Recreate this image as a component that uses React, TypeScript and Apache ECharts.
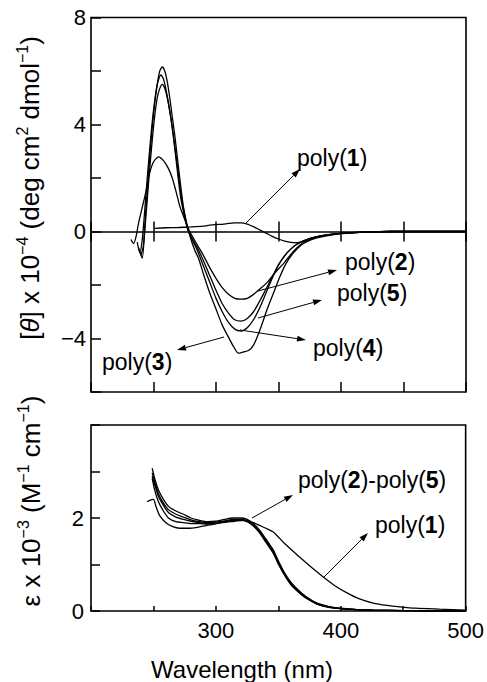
import React, { useEffect, useRef } from "react";
import * as echarts from "echarts";

const FONT = '"Liberation Sans", Arial, Helvetica, sans-serif';

// ---------- Top panel: CD spectra ([θ] x 10^-4) ----------
const cdWl1 = [251,260,270,280,290,295,300,305,310,315,320,325,330,335,340,345,350,355,360,365,370,375,380,390,400,410,420,430,440,470,500];
const cdPoly1 = [0.12,0.14,0.15,0.17,0.2,0.24,0.26,0.27,0.3,0.32,0.32,0.28,0.18,0.06,-0.06,-0.18,-0.28,-0.36,-0.41,-0.42,-0.35,-0.26,-0.2,-0.13,-0.07,-0.04,-0.02,-0.01,0,0,0];

const cdWl2 = [232,234,236,238,241,244,247,250,254,258,262,265,268,271,275,279,285,290,295,300,305,310,315,320,325,330,335,341,347,354,360,365,370,380,390,400,420,440,470,500];
const cdPoly2 = [-0.3,-0.45,-0.2,0.3,0.9,1.5,2.2,2.6,2.79,2.65,2.35,2.0,1.5,0.95,0.45,0.0,-0.5,-0.9,-1.35,-1.75,-2.1,-2.35,-2.5,-2.53,-2.5,-2.35,-2.15,-1.9,-1.55,-1.2,-0.85,-0.6,-0.4,-0.22,-0.13,-0.07,-0.02,0,0,0];

const cdWl3 = [238,241,243,245,247,249,251,253,255,257,259,261,263,265,267,269,271,274,277,280,283,286,290,295,300,305,310,314,318,322,326,330,335,341,346,351,356,362,370,380,390,400,420,440,470,500];
const cdPoly3 = [-0.6,-1.0,0.2,1.5,2.8,3.9,4.8,5.5,6.0,6.15,6.0,5.6,5.0,4.3,3.6,2.8,2.0,0.9,0.2,-0.3,-0.7,-1.0,-1.6,-2.3,-2.9,-3.5,-3.95,-4.3,-4.55,-4.5,-4.45,-4.25,-3.7,-2.9,-2.3,-1.7,-1.2,-0.8,-0.45,-0.25,-0.15,-0.08,-0.02,0,0,0];

const cdWl4 = [237,239,241,243,245,247,249,251,253,256,258,260,262,264,266,268,270,272,275,278,285,290,295,300,305,310,315,320,325,330,335,340,345,350,355,360,365,370,380,390,400,420,440,470,500];
const cdPoly4 = [-0.4,-0.8,-0.3,0.8,2.0,3.1,4.1,4.9,5.5,5.85,5.7,5.3,4.8,4.2,3.5,2.7,1.9,1.2,0.5,0.0,-0.7,-1.3,-1.9,-2.5,-3.0,-3.4,-3.65,-3.72,-3.6,-3.3,-2.85,-2.3,-1.75,-1.25,-0.9,-0.65,-0.47,-0.35,-0.2,-0.12,-0.07,-0.02,0,0,0];

const cdWl5 = [240,242,244,246,248,250,252,254,257,259,261,263,265,267,269,271,273,276,278,285,290,295,300,305,310,315,320,325,330,335,340,345,350,355,360,365,370,380,390,400,420,440,470,500];
const cdPoly5 = [-0.9,-0.5,0.6,1.8,2.9,3.9,4.7,5.2,5.5,5.35,5.0,4.5,3.9,3.2,2.5,1.7,1.1,0.4,0.0,-0.6,-1.1,-1.65,-2.2,-2.7,-3.05,-3.3,-3.35,-3.25,-3.0,-2.6,-2.15,-1.7,-1.25,-0.9,-0.65,-0.47,-0.35,-0.2,-0.12,-0.07,-0.02,0,0,0];

// ---------- Bottom panel: UV spectra (ε x 10^-3) ----------
const uvWl1 = [245,247,250,252,255,260,265,271,278,285,295,305,315,322,330,335,340,346,355,367,376,386,395,405,415,426,437,447,460,479,500];
const uvPoly1 = [2.35,2.38,2.4,2.25,2.05,1.9,1.82,1.78,1.78,1.8,1.85,1.9,1.93,1.95,1.9,1.84,1.78,1.7,1.45,1.16,0.95,0.73,0.55,0.39,0.26,0.17,0.12,0.09,0.06,0.04,0.02];

const uvWlB = [249,251,254,258,262,268,274,280,287,293,300,307,314,320,325,330,335,340,346,350,355,360,366,372,381,390,400,413,426,450,475,500];
const uvPoly2 = [3.07,2.85,2.6,2.4,2.25,2.15,2.08,2.0,1.95,1.92,1.93,1.97,2.0,2.0,1.97,1.88,1.74,1.55,1.31,1.08,0.82,0.62,0.45,0.31,0.17,0.1,0.06,0.03,0.02,0.01,0,0];
const uvPoly3 = [2.97,2.78,2.52,2.32,2.18,2.08,2.02,1.96,1.92,1.9,1.91,1.94,1.97,1.97,1.94,1.85,1.71,1.52,1.28,1.05,0.8,0.6,0.43,0.3,0.16,0.09,0.05,0.03,0.02,0.01,0,0];
const uvPoly4 = [2.9,2.72,2.46,2.27,2.12,2.02,1.97,1.93,1.9,1.88,1.89,1.92,1.95,1.96,1.93,1.84,1.7,1.5,1.26,1.03,0.78,0.58,0.42,0.29,0.15,0.09,0.05,0.03,0.02,0.01,0,0];
const uvPoly5 = [2.85,2.6,2.35,2.15,2.0,1.92,1.9,1.88,1.88,1.87,1.88,1.92,1.95,1.95,1.92,1.83,1.68,1.48,1.24,1.01,0.77,0.57,0.41,0.28,0.15,0.08,0.05,0.03,0.02,0.01,0,0];

// ---------- Axis settings ----------
const xMin = 200, xMax = 500, xStep = 50;
const xLabels = [300, 400, 500];
const cdMin = -6, cdMax = 8, cdStep = 2;
const cdLabels = [8, 4, 0, -4];
const uvMin = 0, uvMax = 4, uvStep = 1;
const uvLabels = [0, 2];

const zip = (xs: number[], ys: number[]) => xs.map((x, i) => [x, ys[i]]);

function arrow(x1: number, y1: number, x2: number, y2: number) {
  const dx = x2 - x1, dy = y2 - y1;
  const len = Math.hypot(dx, dy);
  const ux = dx / len, uy = dy / len;
  const hl = 9, hw = 3;
  const bx = x2 - ux * hl, by = y2 - uy * hl;
  return [
    { type: "line", z: 100, shape: { x1, y1, x2: bx, y2: by }, style: { stroke: "#000", lineWidth: 1 } },
    {
      type: "polygon", z: 100,
      shape: { points: [[x2, y2], [bx - uy * hw, by + ux * hw], [bx + uy * hw, by - ux * hw]] },
      style: { fill: "#000" },
    },
  ];
}

const richLabel = {
  n: { fontSize: 23, fontFamily: FONT, fill: "#000" },
  b: { fontSize: 23, fontFamily: FONT, fontWeight: "bold", fill: "#000" },
};

function label(x: number, y: number, text: string) {
  return {
    type: "text", z: 100, x, y,
    style: { text, rich: richLabel, align: "left", verticalAlign: "middle", fill: "#000" },
  };
}

const richTitle = {
  n: { fontSize: 26, fontFamily: FONT, lineHeight: 31, fill: "#000" },
  i: { fontSize: 26, fontFamily: FONT, fontStyle: "italic", lineHeight: 31, fill: "#000" },
  s: { fontSize: 16, fontFamily: FONT, lineHeight: 17, verticalAlign: "top", fill: "#000" },
};

export default function App() {
  const ref = useRef<HTMLDivElement>(null);
  useEffect(() => {
    if (!ref.current) return;
    const chart = echarts.init(ref.current, undefined, { renderer: "svg" });
    const line = (xi: number, yi: number, data: number[][]) => ({
      type: "line", xAxisIndex: xi, yAxisIndex: yi, data,
      showSymbol: false, symbol: "none", smooth: 0.25,
      lineStyle: { color: "#000", width: 1.3 }, silent: true,
    });
    const tick = () => ({ color: "#000", width: 1.5 });
    const option: any = {
      animation: false,
      backgroundColor: "#fff",
      grid: [
        { left: 91, right: 21, top: 17.5, height: 374.5, show: true, borderColor: "#000", borderWidth: 1.6 },
        { left: 91, right: 21, top: 425, height: 186, show: true, borderColor: "#000", borderWidth: 1.6 },
      ],
      xAxis: [
        {
          gridIndex: 0, type: "value", min: xMin, max: xMax, interval: xStep, position: "bottom",
          axisLine: { show: false, onZero: false },
          axisTick: { show: true, inside: true, length: 10, lineStyle: tick() },
          axisLabel: { show: false }, splitLine: { show: false },
        },
        {
          gridIndex: 0, type: "value", min: xMin, max: xMax, interval: xStep, position: "top",
          axisLine: { show: true, onZero: true, onZeroAxisIndex: 0, lineStyle: { color: "#000", width: 1.5 } },
          axisTick: { show: true, inside: false, length: 10, lineStyle: tick() },
          axisLabel: { show: false }, splitLine: { show: false },
        },
        {
          gridIndex: 0, type: "value", min: xMin, max: xMax, interval: xStep, position: "bottom",
          axisLine: { show: false, onZero: true, onZeroAxisIndex: 0 },
          axisTick: { show: true, inside: false, length: 10, lineStyle: tick() },
          axisLabel: { show: false }, splitLine: { show: false },
        },
        {
          gridIndex: 1, type: "value", min: xMin, max: xMax, interval: xStep, position: "bottom",
          axisLine: { show: false, onZero: false },
          axisTick: { show: true, inside: true, length: 5, lineStyle: tick() },
          axisLabel: {
            show: true, margin: 8, color: "#000", fontSize: 22, fontFamily: FONT,
            formatter: (v: number) => (xLabels.includes(v) ? String(v) : ""),
          },
          splitLine: { show: false },
        },
      ],
      yAxis: [
        {
          gridIndex: 0, type: "value", min: cdMin, max: cdMax, interval: cdStep,
          axisLine: { show: false },
          axisTick: { show: true, inside: true, length: 10, lineStyle: tick() },
          axisLabel: {
            show: true, margin: 5, color: "#000", fontSize: 22, fontFamily: FONT,
            formatter: (v: number) => (cdLabels.includes(v) ? (v < 0 ? "\u2212" + Math.abs(v) : String(v)) : ""),
          },
          splitLine: { show: false },
        },
        {
          gridIndex: 1, type: "value", min: uvMin, max: uvMax, interval: uvStep,
          axisLine: { show: false },
          axisTick: { show: true, inside: true, length: 9, lineStyle: tick() },
          axisLabel: {
            show: true, margin: 7, color: "#000", fontSize: 22, fontFamily: FONT,
            formatter: (v: number) => (uvLabels.includes(v) ? String(v) : ""),
          },
          splitLine: { show: false },
        },
      ],
      series: [
        line(0, 0, zip(cdWl1, cdPoly1)),
        line(0, 0, zip(cdWl2, cdPoly2)),
        line(0, 0, zip(cdWl3, cdPoly3)),
        line(0, 0, zip(cdWl4, cdPoly4)),
        line(0, 0, zip(cdWl5, cdPoly5)),
        line(3, 1, zip(uvWl1, uvPoly1)),
        line(3, 1, zip(uvWlB, uvPoly2)),
        line(3, 1, zip(uvWlB, uvPoly3)),
        line(3, 1, zip(uvWlB, uvPoly4)),
        line(3, 1, zip(uvWlB, uvPoly5)),
      ],
      graphic: [
        {
          type: "text", z: 100, x: 30, y: 188, rotation: Math.PI / 2,
          style: {
            text: "{n|[}{i|θ}{n|] x 10}{s|\u22124}{n| (deg cm}{s|2}{n| dmol}{s|\u22121}{n|)}",
            rich: richTitle, align: "center", verticalAlign: "middle",
          },
        },
        {
          type: "text", z: 100, x: 31, y: 501, rotation: Math.PI / 2,
          style: {
            text: "{n|ε x 10}{s|\u22123}{n| (M}{s|\u22121}{n| cm}{s|\u22121}{n|)}",
            rich: richTitle, align: "center", verticalAlign: "middle",
          },
        },
        {
          type: "text", z: 100, x: 242, y: 669,
          style: { text: "Wavelength (nm)", fontSize: 24, fontFamily: FONT, fill: "#000", align: "center", verticalAlign: "middle" },
        },
        label(297, 158, "{n|poly(}{b|1}{n|)}"),
        label(345, 262, "{n|poly(}{b|2}{n|)}"),
        label(337, 293, "{n|poly(}{b|5}{n|)}"),
        label(313, 348, "{n|poly(}{b|4}{n|)}"),
        label(102, 362, "{n|poly(}{b|3}{n|)}"),
        label(298, 480, "{n|poly(}{b|2}{n|)-poly(}{b|5}{n|)}"),
        label(375, 525, "{n|poly(}{b|1}{n|)}"),
        ...arrow(245, 224, 300, 169),
        ...arrow(258, 291, 337, 270),
        ...arrow(258, 318, 322, 300),
        ...arrow(240, 330, 306, 340),
        ...arrow(224, 337, 177, 350),
        ...arrow(252, 518, 293, 495),
        ...arrow(323, 578, 368, 533),
      ],
    };
    chart.setOption(option);
    return () => chart.dispose();
  }, []);
  return <div ref={ref} style={{ position: "fixed", left: 0, top: 0, width: 487, height: 682 }} />;
}
